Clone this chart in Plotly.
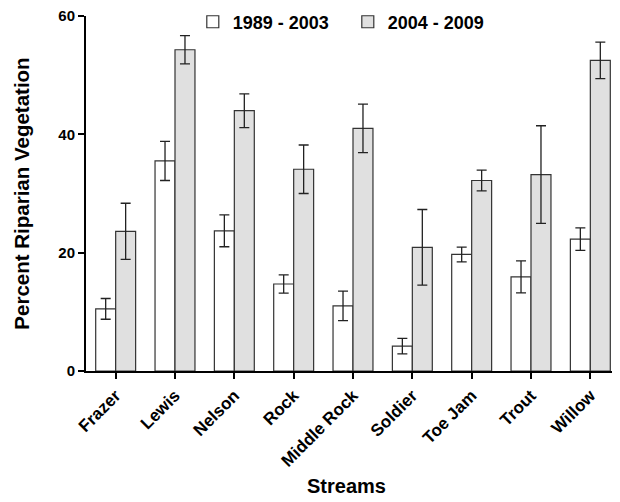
import plotly.graph_objects as go

streams = ["Frazer", "Lewis", "Nelson", "Rock", "Middle Rock", "Soldier", "Toe Jam", "Trout", "Willow"]
early = [10.5, 35.5, 23.7, 14.7, 11.0, 4.2, 19.7, 15.9, 22.3]
early_err = [1.75, 3.3, 2.7, 1.55, 2.5, 1.3, 1.25, 2.7, 1.9]
late = [23.6, 54.3, 44.0, 34.1, 41.0, 20.9, 32.2, 33.2, 52.5]
late_err = [4.75, 2.4, 2.85, 4.1, 4.1, 6.4, 1.75, 8.25, 3.1]
y_ticks = [0, 20, 40, 60]

font_family = "Liberation Sans, Arial, sans-serif"
edge = "#333333"

fig = go.Figure()
fig.add_trace(go.Bar(
    x=streams, y=early, name="1989 - 2003",
    marker=dict(color="white", line=dict(color=edge, width=1.2)),
    error_y=dict(type="data", array=early_err, color="#222222", thickness=1.3, width=5),
))
fig.add_trace(go.Bar(
    x=streams, y=late, name="2004 - 2009",
    marker=dict(color="#e0e0e0", line=dict(color=edge, width=1.2)),
    error_y=dict(type="data", array=late_err, color="#222222", thickness=1.3, width=5),
))

# page body has an 8px margin, so the figure is sized/offset to compensate
fig.update_layout(
    width=612, height=494,
    margin=dict(l=78, r=0, t=8, b=131, autoexpand=False),
    plot_bgcolor="white", paper_bgcolor="white",
    barmode="group", bargap=0.327, bargroupgap=0,
    font=dict(family=font_family, color="black"),
    showlegend=True,
    legend=dict(
        orientation="h", x=0.2, y=0.983, xanchor="left", yanchor="middle",
        font=dict(size=18, family=font_family, weight="bold"),
        bgcolor="rgba(0,0,0,0)", itemwidth=30, traceorder="normal",
        entrywidth=110, entrywidthmode="pixels",
    ),
    xaxis=dict(
        range=[-0.5, 8.5], showline=True, linecolor="black", linewidth=2,
        ticks="outside", ticklen=6, tickwidth=2, tickcolor="black",
        tickangle=-45, tickfont=dict(size=17, family=font_family, weight="bold"),
        showgrid=False, zeroline=False, automargin=False,
    ),
    yaxis=dict(
        range=[0, 60], tickvals=y_ticks, showline=True, linecolor="black", linewidth=2,
        ticks="outside", ticklen=6, tickwidth=2, tickcolor="black",
        tickfont=dict(size=15, family=font_family, weight="bold"),
        ticklabeloverflow="allow",
        showgrid=False, zeroline=False, automargin=False,
        title=dict(text="Percent Riparian Vegetation", standoff=23,
                   font=dict(size=20.5, family=font_family, weight="bold")),
    ),
    annotations=[dict(
        text="Streams", xref="paper", yref="paper", x=(346 - 86) / 534, y=-(486 - 371) / 355,
        xanchor="center", yanchor="middle", showarrow=False,
        font=dict(size=20, family=font_family, weight="bold"),
    )],
)

fig.write_html("out.html")
